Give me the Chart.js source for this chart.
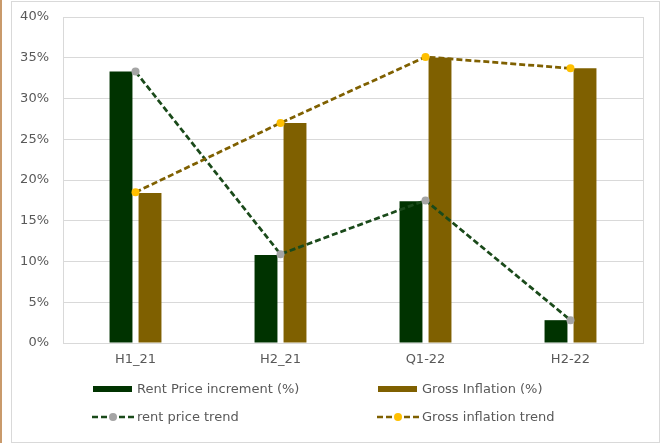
<!DOCTYPE html>
<html>
<head>
<meta charset="utf-8">
<script src="https://cdn.jsdelivr.net/npm/chart.js@4.4.1/dist/chart.umd.min.js"></script>
<style>
  html, body { margin: 0; padding: 0; background: #ffffff; }
  #wrap { position: relative; width: 663px; height: 443px; overflow: hidden; font-family: "DejaVu Sans", sans-serif; }
  #strip { position: absolute; left: 0; top: 0; width: 2px; height: 443px; background: #C99A6B; }
  #frame { position: absolute; left: 11px; top: 1px; width: 647px; height: 440px; border: 1px solid #D9D9D9; box-sizing: content-box; }
  #box { position: absolute; left: 0; top: 0; width: 663px; height: 443px; }
  .lg { position: absolute; font-size: 13px; color: #595959; white-space: nowrap; line-height: 16px; }
  .sw { position: absolute; }
  .sw svg { display: block; }
</style>
</head>
<body>
<div id="wrap">
  <div id="strip"></div>
  <div id="frame"></div>
  <div id="box"><canvas id="c"></canvas></div>
  <div id="legend"></div>
</div>
<script>
// Periods on the x axis
const periods = ['H1_21', 'H2_21', 'Q1-22', 'H2-22'];
// Rent price increment per period (%)
const rentIncrement = [33.3, 10.8, 17.4, 2.8];
// Gross inflation per period (%)
const grossInflation = [18.4, 27.0, 35.0, 33.7];
// Trend lines follow the same period values
const rentTrend = [33.3, 10.9, 17.5, 2.8];
const inflationTrend = [18.5, 27.0, 35.1, 33.7];
// Y axis ticks (%)
const yTicks = [0, 5, 10, 15, 20, 25, 30, 35, 40];

const seriesNames = ['Rent Price increment (%)', 'Gross Inflation (%)', 'rent price trend', 'Gross inflation trend'];
const colRent = '#003300', colGross = '#7F6000';
const colRentLine = '#1A4A1A', colGrossLine = '#7F6000';
const colRentPt = '#A5A5A5', colGrossPt = '#FFC000';
const FONT = '"DejaVu Sans", sans-serif';
const DASH = [6, 3];

// Plot frame around the chart area
const plotFrame = {
  id: 'plotFrame',
  beforeDatasetsDraw(chart) {
    const a = chart.chartArea, ctx = chart.ctx;
    ctx.save();
    ctx.strokeStyle = '#D9D9D9';
    ctx.lineWidth = 1;
    ctx.strokeRect(Math.round(a.left) + 0.5, Math.round(a.top) + 0.5, Math.round(a.right - a.left), Math.round(a.bottom - a.top));
    ctx.restore();
  }
};

new Chart(document.getElementById('c'), {
  data: {
    labels: periods,
    datasets: [
      { type: 'bar', label: seriesNames[0], data: rentIncrement, backgroundColor: colRent, borderWidth: 0, order: 2 },
      { type: 'bar', label: seriesNames[1], data: grossInflation, backgroundColor: colGross, borderWidth: 0, order: 2 },
      { type: 'line', label: seriesNames[2], data: rentTrend, borderColor: colRentLine, borderWidth: 2.75, borderDash: DASH,
        pointRadius: 4, pointBackgroundColor: colRentPt, pointBorderWidth: 0, pointBorderColor: colRentPt, fill: false, tension: 0, order: 1 },
      { type: 'line', label: seriesNames[3], data: inflationTrend, borderColor: colGrossLine, borderWidth: 2.75, borderDash: DASH,
        pointRadius: 4, pointBackgroundColor: colGrossPt, pointBorderWidth: 0, pointBorderColor: colGrossPt, fill: false, tension: 0, order: 0 }
    ]
  },
  options: {
    responsive: true,
    maintainAspectRatio: false,
    animation: false,
    layout: { padding: { left: 0, right: 20, top: 17, bottom: 70 } },
    datasets: { bar: { categoryPercentage: 0.4, barPercentage: 0.79 } },
    plugins: { legend: { display: false }, tooltip: { enabled: false } },
    scales: {
      x: {
        offset: true,
        grid: { display: false, drawTicks: false },
        border: { display: true, color: '#D9D9D9', width: 1 },
        ticks: { color: '#595959', font: { family: FONT, size: 13 }, padding: 9 },
        afterFit(s) { s.height = 30; s.paddingLeft = 0; s.paddingRight = 0; }
      },
      y: {
        min: 0, max: 40,
        afterBuildTicks(s) { s.ticks = yTicks.map(v => ({ value: v })); },
        grid: { color: '#D9D9D9', lineWidth: 1, drawTicks: false },
        border: { display: false },
        ticks: { color: '#595959', font: { family: FONT, size: 13 }, padding: 14, callback: v => v + '%' },
        afterFit(s) { s.width = 63; s.paddingTop = 0; s.paddingBottom = 0; }
      }
    }
  },
  plugins: [plotFrame]
});

// Legend laid out in two columns below the axis
const legend = document.getElementById('legend');
const items = [
  { name: seriesNames[0], kind: 'bar', color: colRent, x: 93, y: 389 },
  { name: seriesNames[1], kind: 'bar', color: colGross, x: 378, y: 389 },
  { name: seriesNames[2], kind: 'line', color: colRentLine, pt: colRentPt, x: 92, y: 417 },
  { name: seriesNames[3], kind: 'line', color: colGrossLine, pt: colGrossPt, x: 377, y: 417 }
];
items.forEach(it => {
  const sw = document.createElement('div');
  sw.className = 'sw';
  if (it.kind === 'bar') {
    sw.style.left = it.x + 'px';
    sw.style.top = (it.y - 3) + 'px';
    sw.style.width = '39px';
    sw.style.height = '6px';
    sw.style.background = it.color;
  } else {
    sw.style.left = it.x + 'px';
    sw.style.top = (it.y - 5) + 'px';
    sw.innerHTML = '<svg width="43" height="10"><line x1="0" y1="5" x2="43" y2="5" stroke="' + it.color +
      '" stroke-width="2.5" stroke-dasharray="' + DASH.join(',') + '"/><circle cx="21" cy="5" r="4" fill="' + it.pt + '"/></svg>';
  }
  legend.appendChild(sw);
  const t = document.createElement('div');
  t.className = 'lg';
  t.textContent = it.name;
  t.style.left = (it.x + (it.kind === 'bar' ? 44 : 45)) + 'px';
  t.style.top = (it.y - 8) + 'px';
  legend.appendChild(t);
});
</script>
</body>
</html>
